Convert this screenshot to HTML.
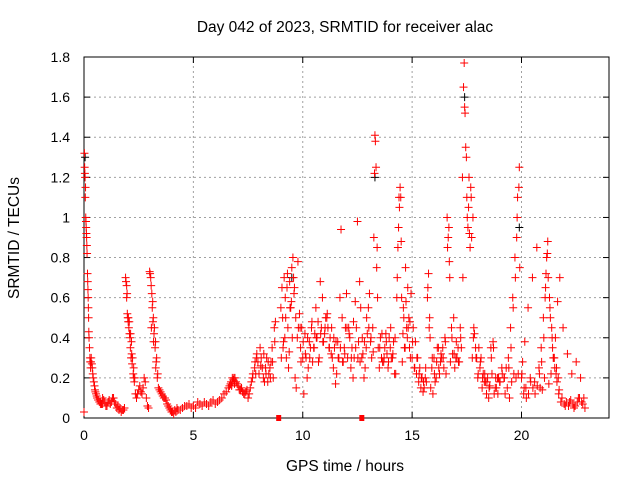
<!DOCTYPE html>
<html><head><meta charset="utf-8"><style>
html,body{margin:0;padding:0;background:#fff}
svg{display:block;font-family:"Liberation Sans",sans-serif}
</style></head><body>
<svg id="chart" width="640" height="480" xmlns="http://www.w3.org/2000/svg">
<rect width="640" height="480" fill="#fff"/>
<text x="345" y="32" font-size="15.5" text-anchor="middle">Day 042 of 2023, SRMTID for receiver alac</text>
<text transform="translate(19,238) rotate(-90)" font-size="15.5" text-anchor="middle">SRMTID / TECUs</text>
<text x="345" y="471" font-size="15.5" text-anchor="middle">GPS time / hours</text>
<g id="grid"></g><g id="axes"></g><g id="marks"></g>
</svg>
<script>
const xTicks=[0,5,10,15,20];
const yTicks=[0,0.2,0.4,0.6,0.8,1,1.2,1.4,1.6,1.8];
const yTickLabels=["0","0.2","0.4","0.6","0.8","1","1.2","1.4","1.6","1.8"];
const redTimes=[0,0.02,0.03,0.05,0.06,0.08,0.1,0.12,0.14,0.16,0.18,0.2,0.22,0.25,0.28,0.3,0.33,0.36,0.4,0.45,0.5,0.55,0.6,0.7,0.8,0.9,1.0,1.1,1.2,1.3,1.4,1.5,1.6,1.7,1.8,1.85,1.9,1.92,1.95,1.98,2.0,2.05,2.1,2.12,2.15,2.2,2.25,2.3,2.35,2.4,2.5,2.6,2.7,2.8,2.85,2.9,2.95,3.0,3.05,3.1,3.12,3.15,3.2,3.25,3.3,3.35,3.4,3.5,3.6,3.7,3.8,3.9,4.0,4.1,4.2,4.3,4.5,4.7,4.9,5.0,5.2,5.4,5.6,5.8,6.0,6.2,6.4,6.6,6.8,6.9,7.0,7.2,7.4,7.5,7.6,7.7,7.8,7.9,8.0,8.1,8.2,8.3,8.4,8.5,8.6,8.7,9.0,9.05,9.1,9.15,9.2,9.25,9.3,9.35,9.4,9.45,9.5,9.55,9.6,9.65,9.7,9.75,9.8,9.9,10.0,10.05,10.1,10.2,10.3,10.4,10.5,10.6,10.7,10.8,10.9,11.0,11.1,11.2,11.3,11.4,11.5,11.6,11.7,11.75,11.8,11.9,12.0,12.1,12.2,12.3,12.4,12.5,12.6,12.7,12.8,12.9,13.0,13.05,13.1,13.2,13.25,13.3,13.32,13.35,13.4,13.5,13.6,13.7,13.8,13.9,14.0,14.1,14.2,14.3,14.35,14.4,14.45,14.5,14.6,14.7,14.8,14.9,15.0,15.1,15.2,15.3,15.4,15.5,15.6,15.7,15.75,15.8,15.9,16.0,16.1,16.2,16.3,16.4,16.5,16.6,16.65,16.7,16.8,16.9,17.0,17.1,17.2,17.3,17.35,17.38,17.4,17.45,17.5,17.55,17.6,17.65,17.7,17.8,17.9,18.0,18.1,18.2,18.3,18.4,18.5,18.6,18.7,18.8,18.9,19.0,19.2,19.3,19.4,19.5,19.6,19.7,19.8,19.9,20.0,20.1,20.2,20.4,20.6,20.8,20.9,21.0,21.1,21.15,21.2,21.3,21.4,21.5,21.6,21.7,21.8,22.0,22.2,22.4,22.6,22.8,22.9,
0.65,0.75,0.85,0.95,1.05,1.15,1.25,1.35,1.45,1.55,1.65,1.75,2.02,2.08,2.18,2.28,2.45,2.55,2.65,2.75,3.08,3.18,3.28,3.45,3.55,3.65,3.75,3.85,3.95,4.05,4.15,4.25,4.4,4.6,4.8,5.1,5.3,5.5,5.7,5.9,6.1,6.3,6.5,6.7,6.75,6.85,6.95,7.1,7.3,7.45,7.65,7.85,7.95,8.05,8.15,8.25,8.35,8.45,8.55,8.65,9.02,9.12,9.22,9.32,9.42,9.52,9.62,9.85,9.95,10.15,10.25,10.35,10.45,10.55,10.65,10.75,10.85,10.95,11.05,11.15,11.25,11.35,11.45,11.55,11.65,11.85,11.95,12.05,12.15,12.25,12.35,12.45,12.55,12.65,12.75,12.85,12.95,13.15,13.45,13.55,13.65,13.75,13.85,13.95,14.05,14.15,14.25,14.55,14.65,14.75,14.85,14.95,15.05,15.15,15.25,15.35,15.45,15.55,15.65,15.85,15.95,16.05,16.15,16.25,16.35,16.45,16.55,16.75,16.85,16.95,17.05,17.15,17.25,17.75,17.85,17.95,18.05,18.15,18.25,18.35,18.45,18.55,18.65,18.75,18.85,18.95,19.1,19.25,19.35,19.45,19.55,19.65,19.75,19.85,20.05,20.15,20.3,20.5,20.7,20.85,20.95,21.05,21.25,21.35,21.45,21.55,21.65,21.75,21.9,22.1,22.3,22.5,22.7,22.85];
const redValues=[0.03,1.32,1.25,1.2,1.1,1.0,0.95,0.9,0.82,0.72,0.64,0.55,0.43,0.35,0.28,0.25,0.3,0.27,0.22,0.18,0.14,0.12,0.1,0.08,0.07,0.09,0.06,0.08,0.07,0.1,0.08,0.05,0.04,0.03,0.04,0.05,0.7,0.68,0.6,0.52,0.5,0.45,0.4,0.35,0.3,0.27,0.22,0.18,0.12,0.1,0.14,0.13,0.15,0.18,0.1,0.06,0.05,0.73,0.7,0.62,0.55,0.48,0.42,0.35,0.28,0.2,0.15,0.13,0.11,0.1,0.07,0.05,0.03,0.02,0.03,0.04,0.05,0.06,0.05,0.06,0.08,0.06,0.07,0.08,0.07,0.09,0.12,0.15,0.18,0.2,0.17,0.15,0.13,0.1,0.15,0.2,0.25,0.32,0.22,0.3,0.2,0.25,0.18,0.25,0.35,0.45,0.55,0.65,0.35,0.7,0.6,0.3,0.72,0.25,0.68,0.55,0.75,0.8,0.62,0.2,0.15,0.4,0.45,0.35,0.3,0.12,0.42,0.2,0.38,0.45,0.35,0.55,0.48,0.68,0.6,0.42,0.5,0.35,0.32,0.25,0.17,0.38,0.6,0.94,0.5,0.35,0.62,0.45,0.25,0.2,0.58,0.98,0.68,0.3,0.2,0.35,0.55,0.62,0.38,0.45,0.9,1.41,1.38,1.25,0.85,0.25,0.3,0.28,0.42,0.25,0.35,0.3,0.22,0.6,0.85,1.1,1.15,0.88,0.55,0.75,0.65,0.48,0.3,0.25,0.22,0.18,0.15,0.13,0.2,0.6,0.72,0.5,0.25,0.3,0.2,0.35,0.28,0.35,0.4,1.0,0.9,0.78,0.45,0.5,0.3,0.35,0.45,1.2,1.65,1.77,1.55,1.35,1.1,0.95,1.2,0.85,1.1,0.4,0.35,0.2,0.25,0.15,0.18,0.12,0.1,0.35,0.38,0.15,0.2,0.18,0.2,0.25,0.3,0.45,0.6,0.8,1.0,1.25,0.2,0.12,0.15,0.2,0.18,0.25,0.35,0.5,0.65,0.8,0.88,0.55,0.4,0.3,0.25,0.12,0.08,0.06,0.08,0.05,0.1,0.07,0.05,
0.09,0.07,0.1,0.08,0.06,0.09,0.08,0.1,0.07,0.06,0.05,0.04,0.48,0.42,0.32,0.2,0.12,0.16,0.12,0.2,0.45,0.38,0.25,0.14,0.12,0.1,0.09,0.06,0.04,0.03,0.04,0.05,0.04,0.06,0.07,0.05,0.07,0.08,0.06,0.09,0.08,0.1,0.13,0.17,0.16,0.2,0.18,0.14,0.12,0.14,0.18,0.22,0.28,0.35,0.25,0.18,0.3,0.22,0.28,0.2,0.3,0.38,0.5,0.45,0.55,0.4,0.65,0.52,0.45,0.3,0.25,0.35,0.28,0.42,0.4,0.3,0.45,0.38,0.5,0.45,0.4,0.3,0.35,0.22,0.3,0.28,0.45,0.3,0.4,0.35,0.3,0.45,0.38,0.55,0.32,0.25,0.42,0.3,0.35,0.4,0.28,0.35,0.32,0.4,0.3,0.38,0.22,0.28,0.35,0.45,0.5,0.62,0.45,0.38,0.3,0.25,0.2,0.15,0.18,0.15,0.12,0.18,0.35,0.22,0.3,0.25,0.22,0.28,0.32,0.25,0.3,0.28,0.35,0.3,0.42,0.3,0.35,0.3,0.22,0.18,0.2,0.16,0.22,0.12,0.15,0.2,0.25,0.12,0.15,0.1,0.18,0.22,0.2,0.22,0.28,0.38,0.55,0.7,0.85,0.15,0.14,0.2,0.17,0.22,0.3,0.4,0.58,0.7,0.45,0.32,0.22,0.28,0.2,0.1,0.07,0.09,0.06,0.07,0.06,0.09,0.06];
const extraTimes=[
0.04,0.07,0.09,0.11,0.13,0.17,0.19,0.21,0.23,0.27,
0.32,0.38,0.42,0.48,0.52,0.58,0.65,0.75,0.85,1.95,
1.97,2.03,2.07,2.13,2.17,2.22,2.27,2.32,3.02,3.07,
3.14,3.17,3.22,3.27,3.32,3.37,6.65,6.72,6.78,6.82,
6.88,7.05,7.15,7.25,7.35,7.55,7.72,7.82,7.88,8.08,
8.22,8.32,8.42,8.52,8.62,8.72,8.75,9.08,9.18,9.28,
9.38,9.48,9.58,9.68,9.78,9.88,9.92,10.02,10.12,10.22,
10.32,10.42,10.52,10.62,10.72,10.82,10.92,11.02,11.12,11.22,
11.32,11.42,11.52,11.62,11.72,11.82,11.92,12.02,12.12,12.22,
12.32,12.42,12.52,12.62,12.72,12.82,12.92,13.02,13.12,13.22,
13.28,13.38,13.42,13.52,13.62,13.72,13.82,13.92,14.02,14.12,
14.22,14.32,14.38,14.42,14.48,14.52,14.58,14.62,14.68,14.72,
14.78,14.82,14.88,14.92,15.02,15.12,15.22,15.32,15.42,15.52,
15.62,15.72,15.78,15.82,15.92,16.02,16.12,16.22,16.32,16.42,
16.52,16.62,16.68,16.72,16.82,16.92,17.02,17.12,17.22,17.32,
17.42,17.48,17.52,17.58,17.62,17.68,17.72,17.78,17.82,17.92,
18.02,18.12,18.22,18.32,18.42,18.52,18.62,18.72,18.82,18.92,
19.02,19.12,19.22,19.42,19.52,19.62,19.72,19.78,19.82,19.88,
19.92,20.02,20.12,20.22,20.32,20.42,20.52,20.62,20.72,20.82,
20.92,21.02,21.08,21.12,21.18,21.22,21.28,21.32,21.38,21.42,
21.48,21.52,21.58,21.62,21.68,21.72,21.85,21.95,22.05,22.15,
22.25,22.35,22.45,22.55,22.65,22.75];
const extraValues=[
1.22,1.15,0.98,0.92,0.86,0.68,0.6,0.5,0.4,0.3,
0.28,0.25,0.2,0.16,0.13,0.11,0.09,0.08,0.07,0.66,
0.62,0.5,0.48,0.42,0.38,0.3,0.25,0.2,0.72,0.66,
0.58,0.5,0.45,0.38,0.3,0.22,0.16,0.18,0.2,0.19,
0.17,0.16,0.14,0.13,0.12,0.12,0.22,0.28,0.3,0.26,
0.32,0.22,0.28,0.2,0.28,0.38,0.48,0.5,0.4,0.65,
0.33,0.58,0.7,0.5,0.78,0.45,0.28,0.38,0.32,0.4,
0.3,0.48,0.35,0.4,0.28,0.42,0.38,0.45,0.52,0.35,
0.45,0.4,0.38,0.3,0.35,0.28,0.32,0.45,0.42,0.3,
0.48,0.35,0.3,0.28,0.4,0.38,0.5,0.45,0.4,0.33,
1.22,0.75,0.6,0.35,0.42,0.3,0.38,0.28,0.45,0.32,
0.4,0.7,0.95,1.05,1.1,0.6,0.42,0.5,0.35,0.58,
0.4,0.45,0.35,0.3,0.38,0.25,0.3,0.22,0.2,0.18,
0.25,0.65,0.45,0.4,0.3,0.22,0.28,0.25,0.32,0.3,
0.38,0.85,0.95,0.7,0.4,0.32,0.38,0.28,0.4,0.7,
1.52,1.3,1.0,1.05,0.92,1.15,0.9,1.0,0.45,0.3,
0.22,0.28,0.2,0.22,0.18,0.15,0.3,0.35,0.2,0.12,
0.18,0.22,0.2,0.25,0.35,0.55,0.7,0.9,1.1,1.15,
0.75,0.22,0.15,0.1,0.12,0.18,0.15,0.12,0.16,0.22,
0.28,0.4,0.6,0.72,0.82,0.7,0.6,0.5,0.45,0.35,
0.3,0.25,0.22,0.18,0.2,0.14,0.1,0.07,0.08,0.06,
0.09,0.07,0.06,0.08,0.1,0.08];
const blackTimes=[0.05,9.5,13.3,17.4,19.9];
const blackValues=[1.3,0.7,1.2,1.6,0.95];
const squareTimes=[8.9,12.7];
const squareValues=[0,0];

const X0=84,X1=609,Y0=418,Y1=57,XMAX=24,YMAX=1.8;
const sx=t=>X0+(X1-X0)*t/XMAX;
const sy=v=>Y0-(Y0-Y1)*v/YMAX;
const NS="http://www.w3.org/2000/svg";
function mk(tag,attrs,parent){const e=document.createElementNS(NS,tag);for(const k in attrs)e.setAttribute(k,attrs[k]);parent.appendChild(e);return e;}
const grid=document.getElementById('grid'),axes=document.getElementById('axes'),marks=document.getElementById('marks');
xTicks.forEach(t=>{
  const x=sx(t);
  if(t>0){const g=mk('line',{x1:x,y1:Y0,x2:x,y2:Y1,stroke:'#a0a0a0','stroke-dasharray':'2,3'},grid);
  
  }
  mk('line',{x1:x,y1:Y0,x2:x,y2:Y0-6,stroke:'#000'},axes);
  mk('line',{x1:x,y1:Y1,x2:x,y2:Y1+6,stroke:'#000'},axes);
  const l=mk('text',{x:x,y:Y0+22,'font-size':14,'text-anchor':'middle'},axes);l.textContent=t;
  
  
});
yTicks.forEach((v,i)=>{
  const y=sy(v);
  if(v>0){const g=mk('line',{x1:X0,y1:y,x2:X1,y2:y,stroke:'#a0a0a0','stroke-dasharray':'2,3'},grid);
  
  }
  mk('line',{x1:X0,y1:y,x2:X0+6,y2:y,stroke:'#000'},axes);
  mk('line',{x1:X1,y1:y,x2:X1-6,y2:y,stroke:'#000'},axes);
  const l=mk('text',{x:X0-14,y:y+5,'font-size':14,'text-anchor':'end'},axes);l.textContent=yTickLabels[i];
  
  
});
const frame=mk('rect',{x:X0,y:Y1,width:X1-X0,height:Y0-Y1,fill:'none',stroke:'#000'},axes);


function plus(t,v,col,name){
  const x=sx(t),y=sy(v);
  const p=mk('path',{d:`M${x-4} ${y}H${x+4}M${x} ${y-4}V${y+4}`,stroke:col,'stroke-width':1,fill:'none'},marks);
  
  
}
blackTimes.forEach((t,i)=>plus(t,blackValues[i],'#000','black-point'));
redTimes.forEach((t,i)=>plus(t,redValues[i],'#f00','red-point'));
extraTimes.forEach((t,i)=>plus(t,extraValues[i],'#f00','red-point'));
squareTimes.forEach((t,i)=>{
  const r=mk('rect',{x:sx(t)-2.5,y:sy(squareValues[i])-3,width:5,height:6,fill:'#f00'},marks);
  
  
});
</script>
</body></html>
